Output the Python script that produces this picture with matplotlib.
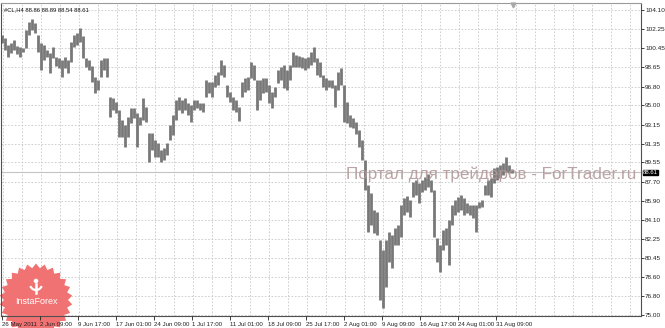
import matplotlib
matplotlib.use("Agg")
import matplotlib.pyplot as plt
import numpy as np
from matplotlib.patches import Polygon, Circle, Arc
from matplotlib.transforms import IdentityTransform

# #CL, H4 bars (high / low per bar)
highs = [101.71, 101.43, 100.76, 100.95, 101.24, 100.67, 100.57, 100.48, 102.19, 102.95,
         103.24, 102.86, 101.71, 100.95, 100.76, 100.28, 99.99, 100.57, 99.62, 99.52,
         99.33, 99.62, 99.33, 101.05, 101.71, 101.91, 102.38, 101.62, 99.52, 99.33,
         98.76, 97.71, 97.42, 99.33, 99.52, 99.52, 95.80, 95.70, 95.32, 94.56,
         93.60, 93.13, 93.89, 94.75, 94.75, 94.27, 93.89, 95.70, 94.85, 92.36,
         92.36, 91.70, 91.41, 90.74, 90.93, 91.41, 93.13, 94.08, 95.51, 95.80,
         95.51, 95.70, 95.23, 95.04, 95.51, 95.51, 95.23, 95.23, 97.42, 97.23,
         97.23, 97.90, 98.18, 99.33, 98.85, 96.94, 96.28, 95.80, 95.51, 94.85,
         97.23, 97.61, 97.71, 99.14, 98.85, 97.42, 97.42, 97.61, 97.61, 96.94,
         96.28, 96.75, 98.38, 98.66, 98.85, 98.38, 98.85, 100.09, 99.81, 99.71,
         99.62, 99.52, 99.62, 100.09, 100.57, 99.52, 99.14, 97.90, 97.61, 97.42,
         97.42, 96.94, 98.18, 98.57, 96.94, 95.32, 94.08, 93.80, 93.41, 92.65,
         91.70, 89.79, 87.40, 86.64, 85.02, 84.83, 82.16, 81.20, 82.16, 82.92,
         82.63, 83.30, 83.59, 85.50, 86.16, 86.35, 85.97, 87.69, 87.88, 87.59,
         87.88, 88.17, 88.45, 87.88, 86.93, 82.35, 81.68, 83.11, 83.30, 84.06,
         85.50, 85.97, 86.26, 86.45, 86.16, 85.69, 85.50, 85.50, 85.50, 85.78,
         85.97, 87.40, 87.88, 88.07, 89.02, 89.12, 89.31, 89.50, 90.08, 89.31,
         88.89]
lows = [100.95, 100.28, 99.62, 99.99, 100.28, 99.90, 99.62, 100.09, 100.48, 101.71,
        102.19, 101.91, 100.09, 98.38, 99.33, 99.62, 98.09, 99.52, 98.76, 98.57,
        97.71, 98.57, 98.09, 99.14, 100.57, 100.76, 101.05, 99.52, 98.66, 98.38,
        97.23, 96.18, 96.47, 97.71, 98.38, 97.71, 93.89, 94.56, 94.27, 91.98,
        91.98, 91.03, 91.98, 93.32, 93.80, 91.03, 93.13, 93.60, 93.41, 89.60,
        90.74, 90.08, 90.08, 89.60, 89.79, 90.27, 91.70, 92.17, 93.60, 94.56,
        94.27, 94.56, 94.08, 93.41, 94.56, 94.75, 94.56, 94.37, 95.80, 96.18,
        95.80, 96.75, 96.94, 97.90, 97.71, 95.80, 95.32, 94.56, 94.37, 93.51,
        95.80, 96.28, 96.47, 97.61, 97.42, 94.56, 95.51, 96.18, 96.28, 95.23,
        94.75, 95.80, 97.13, 97.42, 96.66, 96.47, 97.42, 98.66, 98.66, 98.66,
        98.57, 98.38, 98.57, 98.85, 99.14, 97.90, 97.71, 96.75, 96.47, 96.75,
        96.66, 94.85, 96.47, 96.94, 93.41, 93.32, 92.94, 92.84, 92.27, 91.03,
        89.79, 86.93, 82.92, 83.59, 82.82, 82.63, 76.43, 75.67, 77.67, 80.06,
        79.48, 81.68, 81.68, 82.44, 84.54, 84.83, 84.35, 86.26, 86.45, 85.69,
        86.74, 86.93, 87.21, 86.74, 82.44, 80.06, 79.10, 81.20, 81.68, 79.77,
        83.59, 84.54, 84.83, 85.02, 84.54, 84.73, 84.54, 84.25, 82.92, 85.21,
        85.30, 86.45, 86.45, 86.26, 87.59, 87.88, 88.07, 88.36, 88.64, 88.55,
        88.54]

last_ohlc = [88.86, 88.89, 88.54, 88.61]
price_levels = [104.10, 102.25, 100.45, 98.65, 96.80, 95.00, 93.15, 91.35, 89.55,
                87.70, 85.90, 84.10, 82.25, 80.45, 78.60, 76.80, 75.00]
date_labels = ["26 May 2011", "2 Jun 09:00", "9 Jun 17:00", "17 Jun 01:00",
               "24 Jun 09:00", "1 Jul 17:00", "11 Jul 01:00", "18 Jul 09:00",
               "25 Jul 17:00", "2 Aug 01:00", "9 Aug 09:00", "16 Aug 17:00",
               "24 Aug 01:00", "31 Aug 09:00"]

W, H = 665, 328
fig = plt.figure(figsize=(W / 100, H / 100), dpi=100)
fig.patch.set_facecolor("white")
ax = fig.add_axes([1 / W, 12 / H, 640 / W, 313 / H])
ax.set_axisbelow(False)

idx = np.arange(len(highs))
bars_per_label = 38 / 3
date_ticks = np.arange(len(date_labels)) * bars_per_label - 0.1
grid_x = np.arange(34) * bars_per_label / 2 + 0.23

ax.set_xlim(-1 / 3, 640 / 3 - 1 / 3)
ax.set_ylim(74.90, 104.77)

# grid (drawn manually so it stays under the bars)
for v in price_levels:
    ax.axhline(v, color="#c8c8c8", lw=0.6, ls=(0, (2, 2)), zorder=0.5)
for gx in grid_x:
    ax.axvline(gx, color="#c8c8c8", lw=0.6, ls=(0, (2, 2)), zorder=0.5)

# bid line
ax.axhline(last_ohlc[3], color="#c4c4c4", lw=0.8, zorder=0.8)

ax.vlines(idx, lows, highs, colors="#787878", lw=2.0, zorder=2)

# chart shift marker
ax.plot([idx[-1] + 0.3], [104.62], marker="v", ms=3.5, color="#a8a8a8",
        clip_on=False, zorder=3)

ax.yaxis.tick_right()
ax.set_yticks(price_levels)
ax.set_yticklabels([f"{v:.2f}" for v in price_levels])
ax.set_xticks(date_ticks)
ax.set_xticklabels(date_labels, ha="left")
ax.tick_params(axis="y", length=2, width=0.6, pad=1, labelsize=4.6,
               colors="#202020")
ax.tick_params(axis="x", length=3, width=0.6, pad=1.5, labelsize=4.4,
               colors="#202020")
for lab in ax.get_xticklabels() + ax.get_yticklabels():
    lab.set_family("Liberation Sans")

for side in ["left", "right", "bottom"]:
    ax.spines[side].set_color("#505050")
    ax.spines[side].set_linewidth(0.8)
ax.spines["top"].set_color("#9a9a9a")
ax.spines["top"].set_linewidth(0.8)

# header
ax.text(0.004, 0.985, "#CL,H4 " + " ".join(f"{v:.2f}" for v in last_ohlc),
        transform=ax.transAxes, fontsize=4.2, family="Liberation Sans",
        color="#101010", va="top", ha="left")

# InstaForex logo (pixel coordinates)
cx, cy = 36, H - 300
n = 26
ang = np.linspace(0, 2 * np.pi, 2 * n, endpoint=False) + np.pi / 2
rad = np.where(np.arange(2 * n) % 2 == 0, 36.5, 32)
pts = np.column_stack([cx + rad * np.cos(ang), cy + rad * np.sin(ang)])
ax.add_patch(Polygon(pts, closed=True, facecolor="#f07272", edgecolor="none",
                     transform=IdentityTransform(), clip_on=False, zorder=2.3))
ax.add_patch(Circle((cx, H - 281), 2.3, facecolor="white", edgecolor="none",
                    transform=IdentityTransform(), clip_on=False, zorder=2.4))
ax.add_patch(Arc((cx, H - 284), 12, 12, theta1=200, theta2=340, color="white",
                 lw=1.6, transform=IdentityTransform(), clip_on=False, zorder=2.4))
ax.plot([cx, cx], [H - 284, H - 293], color="white", lw=1.8,
        transform=IdentityTransform(), clip_on=False, zorder=2.4)
ax.text(cx, H - 301, "InstaForex", color="white", fontsize=6.5,
        family="Liberation Sans", ha="center", va="center",
        transform=IdentityTransform(), clip_on=False, zorder=2.4)

# watermark and price label
fig.text(346 / W, 1 - 174 / H, "Портал для трейдеров - ForTrader.ru",
         fontsize=12.3, family="Liberation Sans", color="#b39a9a",
         ha="left", va="center", alpha=0.9, zorder=5)
fig.text(643 / W, 1 - 172.5 / H, f"{last_ohlc[3]:.2f}", fontsize=4.3,
         family="Liberation Sans", color="white", ha="left", va="center",
         zorder=6, bbox=dict(facecolor="black", edgecolor="black", pad=0.2))

fig.savefig("out.png", dpi=100)
